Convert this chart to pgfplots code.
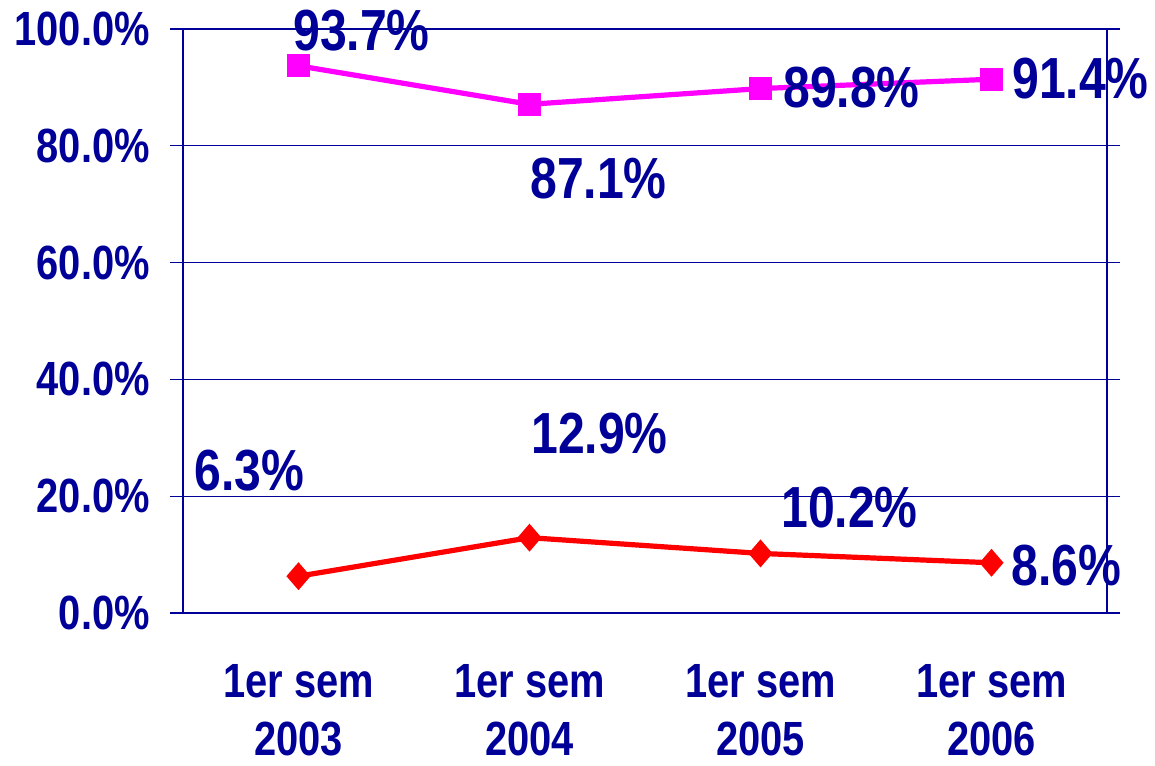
\documentclass[border=0pt]{standalone}
\usepackage{fontspec}
\setmainfont{Liberation Sans}[FakeStretch=0.83]
\usepackage{pgfplots}
\pgfplotsset{compat=1.18}
\definecolor{navy}{RGB}{0,0,153}
\definecolor{mag}{RGB}{255,0,255}
\definecolor{red}{RGB}{255,0,0}
\begin{document}
\begin{tikzpicture}
\useasboundingbox (-183pt,-152pt) rectangle (972pt,613pt);
\begin{axis}[
  at={(0pt,0pt)}, anchor=south west,
  scale only axis, width=924pt, height=584pt,
  xmin=-0.5, xmax=3.5, ymin=0, ymax=100,
  clip=false,
  axis line style={navy, line width=1.5pt},
  ytick={0,20,40,60,80,100},
  yticklabels={0.0\%,20.0\%,40.0\%,60.0\%,80.0\%,100.0\%},
  xtick={0,1,2,3},
  xticklabels={{1er sem\\2003},{1er sem\\2004},{1er sem\\2005},{1er sem\\2006}},
  minor xtick={-0.5,0.5,1.5,2.5,3.5},
  tick align=outside,
  major tick length=13pt, minor tick length=14pt,
  xtick style={draw=none},
  minor x tick style={navy, line width=1.2pt},
  ytick style={navy, line width=1.2pt},
  ymajorgrids, grid style={navy, line width=1pt},
  ticklabel style={text=navy, font=\fontsize{48}{58}\selectfont\bfseries, inner sep=0pt},
  yticklabel style={anchor=east, xshift=-20pt},
  xticklabel style={align=center, anchor=north, yshift=-38pt},
  /pgf/number format/assume math mode=true,
  point meta=y,
  nodes near coords={\pgfmathprintnumber[fixed,precision=1,fixed zerofill]{\pgfplotspointmeta}\%},
  visualization depends on={\thisrow{dx}\as\dx},
  visualization depends on={\thisrow{dy}\as\dy},
  every node near coord/.style={anchor=center, inner sep=0pt, text=navy, text depth=0pt,
     font=\fontsize{58}{60}\selectfont\bfseries, xshift=\dx pt, yshift=\dy pt},
]
\addplot[mag, line width=5.2pt, mark=square*, mark size=9pt, mark options={solid}]
  table {
  x y dx dy
  0 93.7 63 36
  1 87.1 69 -74
  2 89.8 91 1
  3 91.4 89 1
  };
\addplot[red, line width=5.2pt, mark=diamond*, mark size=10pt, mark options={solid, xscale=1.15}]
  table {
  x y dx dy
  0 6.3 -49 106
  1 12.9 70 104
  2 10.2 89 46
  3 8.6 75 -2
  };
\end{axis}
\end{tikzpicture}
\end{document}
